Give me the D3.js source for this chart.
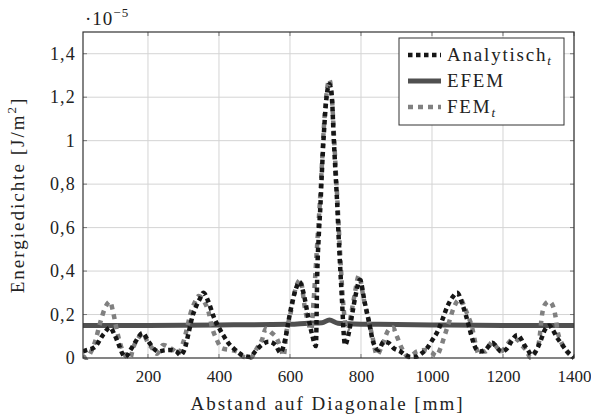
<!DOCTYPE html>
<html>
<head>
<meta charset="utf-8">
<script src="https://cdn.jsdelivr.net/npm/d3@7/dist/d3.min.js"></script>
<style>
  html, body { margin: 0; padding: 0; background: #fff; }
  svg text { font-family: "Liberation Serif", "DejaVu Serif", serif; fill: #222; }
</style>
</head>
<body>
<svg id="chart" width="591" height="418"></svg>
<script>
// Energy density along the diagonal, values in units of 1e-5 J/m²

// Analytical solution (time averaged)
const analytX = [17, 25, 50, 75, 93, 105, 118, 128, 137, 150, 165, 185, 200, 215, 230, 245, 262, 280, 292, 305,
  315, 325, 335, 347, 356, 370, 385, 398, 412, 426, 446, 465, 488, 502, 520, 540, 559, 573, 587, 597,
  607, 617, 627, 638, 650, 662, 673, 677, 681, 686, 690, 695, 703, 711, 718, 723, 728, 733, 737, 742,
  747, 751, 755, 765, 775, 785, 797, 810, 822, 835, 849, 864, 877, 892, 911, 925, 940, 955, 970, 986,
  1000, 1015, 1029, 1043, 1058, 1071, 1085, 1095, 1105, 1115, 1125, 1135, 1150, 1170, 1182, 1195, 1212, 1226, 1240, 1250,
  1260, 1270, 1280, 1292, 1305, 1318, 1330, 1340, 1350, 1367, 1381, 1392, 1400];
const analytY = [0.03, 0.035, 0.05, 0.11, 0.14, 0.11, 0.06, 0.02, 0.005, 0.035, 0.075, 0.115, 0.08, 0.045, 0.03, 0.035, 0.037, 0.03, 0.014, 0.05,
  0.12, 0.19, 0.235, 0.275, 0.30, 0.26, 0.19, 0.145, 0.105, 0.07, 0.037, 0.014, 0.005, 0.03, 0.06, 0.075, 0.06, 0.025, 0.09, 0.18,
  0.26, 0.32, 0.35, 0.30, 0.20, 0.11, 0.055, 0.40, 0.56, 0.71, 0.86, 1.02, 1.20, 1.26, 1.20, 1.02, 0.86, 0.71, 0.56, 0.40,
  0.25, 0.12, 0.06, 0.11, 0.20, 0.29, 0.36, 0.26, 0.17, 0.07, 0.037, 0.075, 0.07, 0.045, 0.03, 0.014, 0.005, 0.006, 0.02, 0.045,
  0.08, 0.12, 0.175, 0.236, 0.28, 0.30, 0.25, 0.20, 0.14, 0.08, 0.04, 0.03, 0.037, 0.07, 0.05, 0.03, 0.045, 0.083, 0.106, 0.09,
  0.06, 0.037, 0.014, 0.03, 0.075, 0.13, 0.15, 0.13, 0.10, 0.06, 0.03, 0.014, 0.0];

// Energy finite element method
const efemX = [17, 200, 400, 600, 650, 690, 711, 735, 780, 850, 1000, 1200, 1400];
const efemY = [0.15, 0.15, 0.152, 0.155, 0.16, 0.162, 0.175, 0.16, 0.157, 0.155, 0.152, 0.15, 0.15];

// Finite element method (time averaged)
const femX = [17, 27, 40, 51, 65, 79, 93, 102, 112, 121, 135, 150, 158, 172, 186, 200, 212, 225, 243, 258,
  271, 285, 299, 309, 319, 333, 343, 358, 371, 380, 394, 408, 432, 451, 468, 488, 507, 521, 532, 549,
  563, 573, 582, 591, 601, 610, 620, 629, 643, 652, 660, 666, 672, 678, 684, 689, 694, 702, 711, 718,
  724, 729, 734, 739, 744, 750, 757, 763, 772, 783, 794, 808, 822, 832, 845, 860, 878, 890, 901, 915,
  934, 958, 982, 1000, 1012, 1024, 1035, 1047, 1061, 1073, 1081, 1090, 1100, 1113, 1122, 1131, 1140, 1151, 1170, 1182,
  1193, 1205, 1216, 1230, 1243, 1255, 1265, 1278, 1292, 1302, 1310, 1320, 1330, 1339, 1348, 1353, 1362, 1372, 1385, 1400];
const femY = [0.01, 0.0, 0.03, 0.075, 0.16, 0.23, 0.26, 0.21, 0.13, 0.07, 0.014, 0.0, 0.045, 0.09, 0.11, 0.07, 0.045, 0.02, 0.06, 0.05,
  0.037, 0.02, 0.07, 0.13, 0.20, 0.26, 0.285, 0.26, 0.21, 0.144, 0.083, 0.045, 0.037, 0.03, 0.006, 0.0, 0.045, 0.083, 0.135, 0.115,
  0.09, 0.05, 0.01, 0.13, 0.20, 0.28, 0.34, 0.36, 0.22, 0.16, 0.13, 0.25, 0.40, 0.56, 0.71, 0.86, 1.02, 1.20, 1.28, 1.20,
  1.02, 0.86, 0.71, 0.55, 0.40, 0.25, 0.15, 0.13, 0.20, 0.30, 0.38, 0.27, 0.17, 0.10, 0.014, 0.06, 0.13, 0.14, 0.10, 0.045,
  0.005, 0.03, 0.037, 0.025, 0.01, 0.045, 0.10, 0.16, 0.23, 0.265, 0.27, 0.24, 0.20, 0.14, 0.07, 0.02, 0.03, 0.03, 0.075, 0.05,
  0.03, 0.045, 0.07, 0.09, 0.08, 0.055, 0.037, 0.0, 0.03, 0.08, 0.20, 0.25, 0.26, 0.245, 0.19, 0.13, 0.08, 0.05, 0.02, 0.0];

const xTicks = [200, 400, 600, 800, 1000, 1200, 1400];
const yTicks = [0, 0.2, 0.4, 0.6, 0.8, 1, 1.2, 1.4];

const margin = { left: 83, top: 32, right: 574, bottom: 358 };
const svg = d3.select("#chart");

const x = d3.scaleLinear().domain([17, 1400]).range([margin.left, margin.right]);
const y = d3.scaleLinear().domain([0, 1.5]).range([margin.bottom, margin.top]);

const fmt = v => String(+v.toFixed(1)).replace(".", ",");

// grid
const grid = svg.append("g").attr("stroke", "#d4d4d4").attr("stroke-width", 1);
xTicks.forEach(t => grid.append("line")
  .attr("x1", x(t)).attr("x2", x(t)).attr("y1", margin.top).attr("y2", margin.bottom));
yTicks.filter(t => t > 0).forEach(t => grid.append("line")
  .attr("x1", margin.left).attr("x2", margin.right).attr("y1", y(t)).attr("y2", y(t)));

// axes with labels
const xAxis = svg.append("g")
  .attr("transform", `translate(0,${margin.bottom})`)
  .call(d3.axisBottom(x).tickValues(xTicks).tickSize(0).tickPadding(12).tickFormat(d3.format("d")));
xAxis.select(".domain").remove();
xAxis.selectAll("text").attr("font-size", 17)
  .style("font-family", "'Liberation Serif', serif").attr("fill", "#222");

const yAxis = svg.append("g")
  .attr("transform", `translate(${margin.left},0)`)
  .call(d3.axisLeft(y).tickValues(yTicks).tickSize(0).tickPadding(7).tickFormat(fmt));
yAxis.select(".domain").remove();
yAxis.selectAll("text").attr("font-size", 18).attr("letter-spacing", 1.2)
  .style("font-family", "'Liberation Serif', serif").attr("fill", "#222");

// small tick marks on the frame
const tk = svg.append("g").attr("stroke", "#777").attr("stroke-width", 1);
xTicks.forEach(t => {
  tk.append("line").attr("x1", x(t)).attr("x2", x(t)).attr("y1", margin.bottom).attr("y2", margin.bottom - 4);
  tk.append("line").attr("x1", x(t)).attr("x2", x(t)).attr("y1", margin.top).attr("y2", margin.top + 4);
});
yTicks.forEach(t => {
  tk.append("line").attr("x1", margin.left).attr("x2", margin.left + 4).attr("y1", y(t)).attr("y2", y(t));
  tk.append("line").attr("x1", margin.right).attr("x2", margin.right - 4).attr("y1", y(t)).attr("y2", y(t));
});

// series
svg.append("clipPath").attr("id", "plotclip").append("rect")
  .attr("x", margin.left).attr("y", margin.top - 2)
  .attr("width", margin.right - margin.left).attr("height", margin.bottom - margin.top + 4);

const line = d3.line().x(d => x(d[0])).y(d => y(d[1])).curve(d3.curveMonotoneX);
const plot = svg.append("g").attr("clip-path", "url(#plotclip)");

plot.append("path")
  .attr("d", line(d3.zip(efemX, efemY)))
  .attr("fill", "none").attr("stroke", "#505050").attr("stroke-width", 5);

plot.append("path")
  .attr("d", line(d3.zip(femX, femY)))
  .attr("fill", "none").attr("stroke", "#808080").attr("stroke-width", 4.5)
  .attr("stroke-dasharray", "5,5");

plot.append("path")
  .attr("d", line(d3.zip(analytX, analytY)))
  .attr("fill", "none").attr("stroke", "#161616").attr("stroke-width", 4.5)
  .attr("stroke-dasharray", "4.5,3.5");

// frame
svg.append("rect")
  .attr("x", margin.left).attr("y", margin.top)
  .attr("width", margin.right - margin.left).attr("height", margin.bottom - margin.top)
  .attr("fill", "none").attr("stroke", "#333").attr("stroke-width", 1.2);

// exponent
const ex = svg.append("text").attr("x", 85).attr("y", 25).attr("font-size", 19).attr("letter-spacing", 1);
ex.append("tspan").text("·10");
ex.append("tspan").attr("font-size", 13).attr("dy", -8).text("−5");

// axis titles
svg.append("text")
  .attr("x", (margin.left + margin.right) / 2 - 1).attr("y", 410)
  .attr("text-anchor", "middle").attr("font-size", 19).attr("letter-spacing", 2)
  .text("Abstand auf Diagonale [mm]");

const yt = svg.append("text")
  .attr("transform", `translate(24,${(margin.top + margin.bottom) / 2}) rotate(-90)`)
  .attr("text-anchor", "middle").attr("font-size", 19).attr("letter-spacing", 2);
yt.append("tspan").text("Energiedichte [J/m");
yt.append("tspan").attr("font-size", 13).attr("dy", -8).text("2");
yt.append("tspan").attr("dy", 8).text("]");

// legend
const leg = svg.append("g");
leg.append("rect").attr("x", 399).attr("y", 38).attr("width", 165).attr("height", 87)
  .attr("fill", "#fff").attr("stroke", "#333").attr("stroke-width", 1);
const entries = [
  { name: "Analytisch", sub: "t", color: "#161616", dash: "4.5,3.5", w: 4.5 },
  { name: "EFEM", sub: null, color: "#505050", dash: null, w: 5 },
  { name: "FEM", sub: "t", color: "#808080", dash: "5,5", w: 4.5 }
];
entries.forEach((e, i) => {
  const cy = 55 + i * 26;
  leg.append("line").attr("x1", 408).attr("x2", 441).attr("y1", cy).attr("y2", cy)
    .attr("stroke", e.color).attr("stroke-width", e.w)
    .attr("stroke-dasharray", e.dash);
  const t = leg.append("text").attr("x", 447).attr("y", cy + 6)
    .attr("font-size", 19).attr("letter-spacing", 1.8);
  t.append("tspan").text(e.name);
  if (e.sub) t.append("tspan").attr("font-size", 13).attr("font-style", "italic")
    .attr("letter-spacing", 0).attr("dy", 4).text(e.sub);
});
</script>
</body>
</html>
